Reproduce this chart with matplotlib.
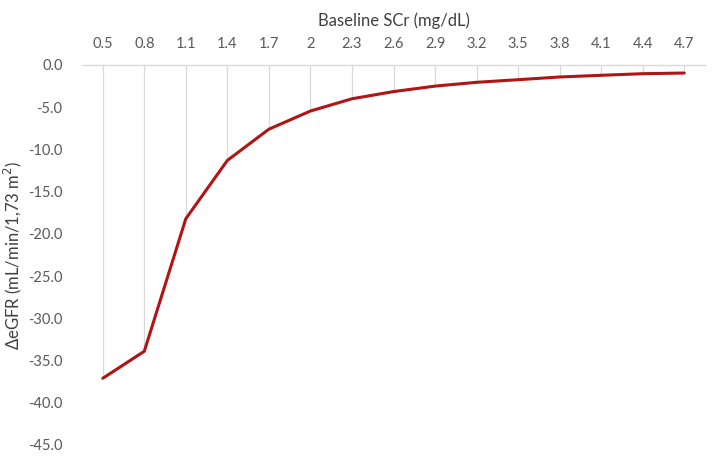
import matplotlib.pyplot as plt
import numpy as np

# Baseline SCr categories and estimated eGFR change
scr_labels = ['0.5', '0.8', '1.1', '1.4', '1.7', '2', '2.3', '2.6', '2.9',
              '3.2', '3.5', '3.8', '4.1', '4.4', '4.7']
delta_egfr = [-37.1, -33.9, -18.2, -11.3, -7.6, -5.45, -4.0, -3.15, -2.5,
              -2.05, -1.74, -1.42, -1.22, -1.03, -0.95]
y_ticks = [0, -5, -10, -15, -20, -25, -30, -35, -40, -45]

plt.rcParams['font.family'] = ['Lato', 'DejaVu Sans']
txt = '#595959'

fig = plt.figure(figsize=(7.23, 4.67), dpi=100)
ax = fig.add_axes([82 / 723, 1 - 445 / 467, (705 - 82) / 723, (445 - 65) / 467])

x = np.arange(len(scr_labels))

# drop lines from the axis down to each point
ax.vlines(x, delta_egfr, 0, color='#d9d9d9', lw=0.9, zorder=1)
ax.plot(x, delta_egfr, color='#b01414', lw=2.2, zorder=3, solid_capstyle='round')

ax.set_xlim(-0.5, len(scr_labels) - 0.5)
ax.set_ylim(-45, 0)
ax.xaxis.tick_top()
ax.xaxis.set_label_position('top')
ax.set_xticks(x)
ax.set_xticklabels(scr_labels)
ax.set_yticks(y_ticks)
ax.set_yticklabels(['%.1f' % v for v in y_ticks])
ax.tick_params(axis='both', length=0, colors=txt, labelsize=10.5)
ax.tick_params(axis='x', pad=10)
ax.tick_params(axis='y', pad=14)

for side in ['left', 'right', 'bottom']:
    ax.spines[side].set_visible(False)
ax.spines['top'].set_color('#d9d9d9')
ax.spines['top'].set_linewidth(1.0)

ax.set_xlabel('Baseline SCr (mg/dL)', fontsize=12, color='#404040', labelpad=8)
ax.set_ylabel('ΔeGFR (mL/min/1,73 m$^2$)', fontsize=12, color='#404040', labelpad=4)
ax.yaxis.set_label_coords(-58 / 623, 0.5)

fig.savefig('out.png', dpi=100)
